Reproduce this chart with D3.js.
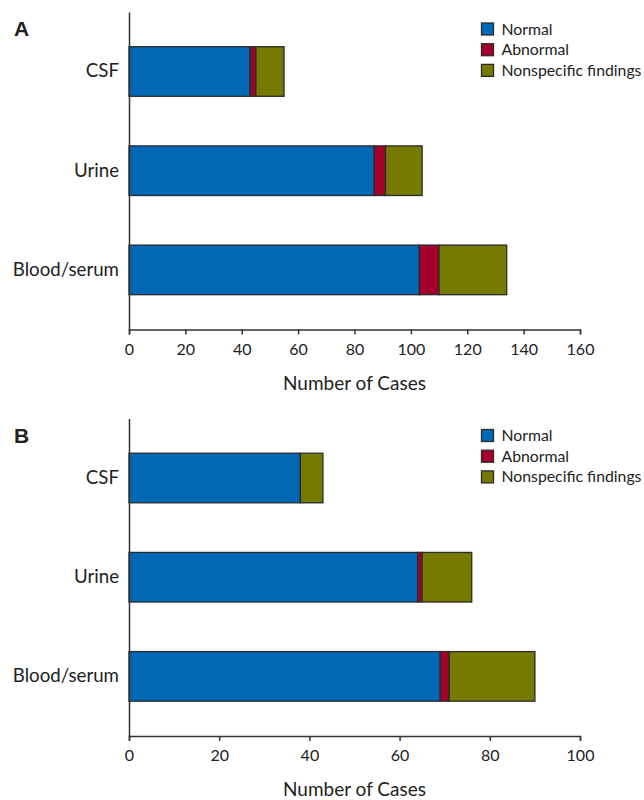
<!DOCTYPE html>
<html>
<head>
<meta charset="utf-8">
<script src="https://cdn.jsdelivr.net/npm/d3@7"></script>
<style>
  html, body { margin: 0; padding: 0; background: #fff; }
  svg text { font-family: Lato, "Open Sans", sans-serif; fill: #222; }
</style>
</head>
<body>
<svg id="chart" width="644" height="800"></svg>
<script>
// ---- Data ----
const categories = ["CSF", "Urine", "Blood/serum"];
const seriesNames = ["Normal", "Abnormal", "Nonspecific findings"];
const seriesColors = ["#0068b4", "#a5002d", "#767a00"];

// Panel A
const normalA = [43, 87, 103];
const abnormalA = [2, 4, 7];
const nonspecificA = [10, 13, 24];
const ticksA = [0, 20, 40, 60, 80, 100, 120, 140, 160];

// Panel B
const normalB = [38, 64, 69];
const abnormalB = [0, 1, 2];
const nonspecificB = [5, 11, 19];
const ticksB = [0, 20, 40, 60, 80, 100];

const axisTitle = "Number of Cases";
const panelLabels = ["A", "B"];

const svg = d3.select("#chart");

function drawPanel(offsetY, label, normal, abnormal, nonspecific, ticks) {
  const g = svg.append("g").attr("transform", `translate(0,${offsetY})`);
  const rows = categories.map((c, i) => ({
    category: c,
    "Normal": normal[i],
    "Abnormal": abnormal[i],
    "Nonspecific findings": nonspecific[i]
  }));
  const stacked = d3.stack().keys(seriesNames)(rows);

  const x = d3.scaleLinear()
    .domain([ticks[0], ticks[ticks.length - 1]])
    .range([129, 580]);
  const y = d3.scaleBand()
    .domain(categories)
    .range([12, 329.4])
    .paddingInner(0.5)
    .paddingOuter(0.35);

  // bars
  g.append("g").selectAll("g")
    .data(stacked)
    .join("g")
    .attr("fill", (d, i) => seriesColors[i])
    .selectAll("rect")
    .data(d => d.filter(s => s[1] - s[0] > 0))
    .join("rect")
    .attr("x", d => x(d[0]))
    .attr("y", d => y(d.data.category))
    .attr("width", d => x(d[1]) - x(d[0]))
    .attr("height", y.bandwidth())
    .attr("stroke", "#2b2b2b")
    .attr("stroke-width", 1.3);

  // y axis
  const yAxis = g.append("g")
    .attr("transform", `translate(${x(0)},0)`)
    .call(d3.axisLeft(y).tickSize(0).tickSizeOuter(0).tickPadding(10));
  yAxis.select(".domain").attr("stroke", "#333").attr("stroke-width", 1.5);
  yAxis.selectAll("text")
    .style("font-size", "18.7px")
    .style("font-family", "Lato, 'Open Sans', sans-serif")
    .attr("fill", "#222");

  // x axis
  const xAxis = g.append("g")
    .attr("transform", `translate(0,329.4)`)
    .call(d3.axisBottom(x).tickValues(ticks).tickSize(5).tickSizeOuter(5).tickPadding(9));
  xAxis.select(".domain").attr("stroke", "#333").attr("stroke-width", 1.5);
  xAxis.selectAll(".tick line").attr("stroke", "#333").attr("stroke-width", 1.5);
  xAxis.selectAll("text")
    .style("font-size", "16px")
    .style("font-family", "Lato, 'Open Sans', sans-serif")
    .attr("fill", "#222");

  // axis title
  g.append("text")
    .attr("x", (x.range()[0] + x.range()[1]) / 2)
    .attr("y", 389.5)
    .attr("text-anchor", "middle")
    .style("font-size", "19px")
    .text(axisTitle);

  // panel label
  g.append("text")
    .attr("x", 14)
    .attr("y", 36)
    .style("font-family", "'Liberation Sans', Arial, sans-serif")
    .style("font-weight", "bold")
    .style("font-size", "21px")
    .attr("fill", "#000")
    .text(label);

  // legend
  const legend = g.append("g");
  seriesNames.forEach((name, i) => {
    const ly = 23 + i * 20.7;
    legend.append("rect")
      .attr("x", 481.5).attr("y", ly)
      .attr("width", 12).attr("height", 12)
      .attr("fill", seriesColors[i])
      .attr("stroke", "#2b2b2b").attr("stroke-width", 1.3);
    legend.append("text")
      .attr("x", 501.5).attr("y", ly + 11.5)
      .style("font-size", "15.8px")
      .text(name);
  });
}

drawPanel(0, panelLabels[0], normalA, abnormalA, nonspecificA, ticksA);
drawPanel(406.5, panelLabels[1], normalB, abnormalB, nonspecificB, ticksB);
</script>
</body>
</html>
